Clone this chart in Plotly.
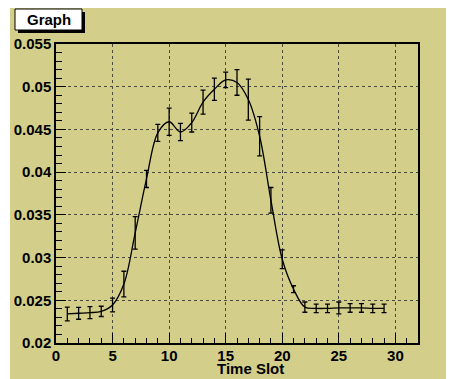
import plotly.graph_objects as go

# ---- data ----
time_slot = list(range(1, 30))
values = [0.0234, 0.02348, 0.02355, 0.0237, 0.02445, 0.0269, 0.0329, 0.0392,
          0.0446, 0.0459, 0.0447, 0.0458, 0.0482, 0.0497, 0.0508, 0.0505,
          0.0485, 0.0442, 0.0367, 0.0298, 0.0263, 0.0242, 0.02405, 0.02405,
          0.0241, 0.0241, 0.0241, 0.02405, 0.02405]
errors = [0.0008, 0.0007, 0.0007, 0.0006, 0.0008, 0.0015, 0.0019, 0.0010,
          0.0010, 0.0016, 0.0010, 0.0011, 0.0014, 0.0013, 0.0009, 0.0015,
          0.0024, 0.0023, 0.0015, 0.0011, 0.0004, 0.0006, 0.0005, 0.0005,
          0.0007, 0.0005, 0.0005, 0.0005, 0.0005]
y_ticks = [0.02, 0.025, 0.03, 0.035, 0.04, 0.045, 0.05, 0.055]
y_labels = ["0.02", "0.025", "0.03", "0.035", "0.04", "0.045", "0.05", "0.055"]
x_ticks = [0, 5, 10, 15, 20, 25, 30]
x_labels = ["0", "5", "10", "15", "20", "25", "30"]

# page body has an 8px margin, so figure coords = screen coords - 8
W, H = 454, 379
L, R, T, B = 48, 410, 36, 335
KHAKI = "#d3cf8b"
FONT = "Liberation Sans"


def px(x):
    return (x - L) / (R - L)


def py(y):
    return (B - y) / (B - T)


fig = go.Figure()
fig.add_trace(go.Scatter(
    x=time_slot, y=values, mode="lines",
    line=dict(color="black", width=1.3, shape="spline", smoothing=1.0),
    error_y=dict(type="data", array=errors, visible=True, color="black",
                 thickness=1.3, width=2.5),
    showlegend=False, hoverinfo="skip",
))

axis_common = dict(
    showline=True, linecolor="black", linewidth=1.5, mirror=True,
    ticks="inside", tickcolor="black", ticklen=10, tickwidth=1,
    showgrid=True, gridcolor="#4a4a40", griddash="dot", gridwidth=1,
    zeroline=False, automargin=False,
    tickfont=dict(family=FONT, size=15, color="black", weight="bold"),
)

fig.update_xaxes(
    range=[0, 32], tickmode="array", tickvals=x_ticks, ticktext=x_labels,
    minor=dict(dtick=1, tick0=0, ticks="inside", ticklen=5, tickcolor="black", showgrid=False),
    ticklabelstandoff=-2,
    **axis_common,
)
fig.update_yaxes(
    range=[0.02, 0.055], tickmode="array", tickvals=y_ticks, ticktext=y_labels,
    minor=dict(dtick=0.001, tick0=0.02, ticks="inside", ticklen=6, tickcolor="black", showgrid=False),
    ticklabelstandoff=0,
    **axis_common,
)

shapes = [
    # thin white strip at far left
    dict(type="rect", xref="paper", yref="paper", x0=px(-2), x1=px(2), y0=py(H + 5), y1=py(-5),
         fillcolor="white", line=dict(width=0), layer="below"),
    # title box shadow
    dict(type="rect", xref="paper", yref="paper", x0=px(10), x1=px(77), y0=py(25), y1=py(4),
         fillcolor="black", line=dict(width=0), layer="above"),
    # title box
    dict(type="rect", xref="paper", yref="paper", x0=px(7), x1=px(74), y0=py(22), y1=py(1),
         fillcolor="white", line=dict(color="black", width=1), layer="above"),
]

annotations = [
    dict(text="Graph", xref="paper", yref="paper", x=px(40.5), y=py(11.5),
         xanchor="center", yanchor="middle", showarrow=False,
         font=dict(family=FONT, size=15, color="black", weight="bold")),
    dict(text="Time Slot", xref="paper", yref="paper", x=px(242), y=py(360.5),
         xanchor="center", yanchor="middle", showarrow=False,
         font=dict(family=FONT, size=15, color="black", weight="bold")),
]

fig.update_layout(
    width=W, height=H,
    margin=dict(l=L, r=W - R, t=T, b=H - B, autoexpand=False),
    paper_bgcolor=KHAKI, plot_bgcolor=KHAKI,
    shapes=shapes, annotations=annotations,
)

fig.write_html("out.html")
